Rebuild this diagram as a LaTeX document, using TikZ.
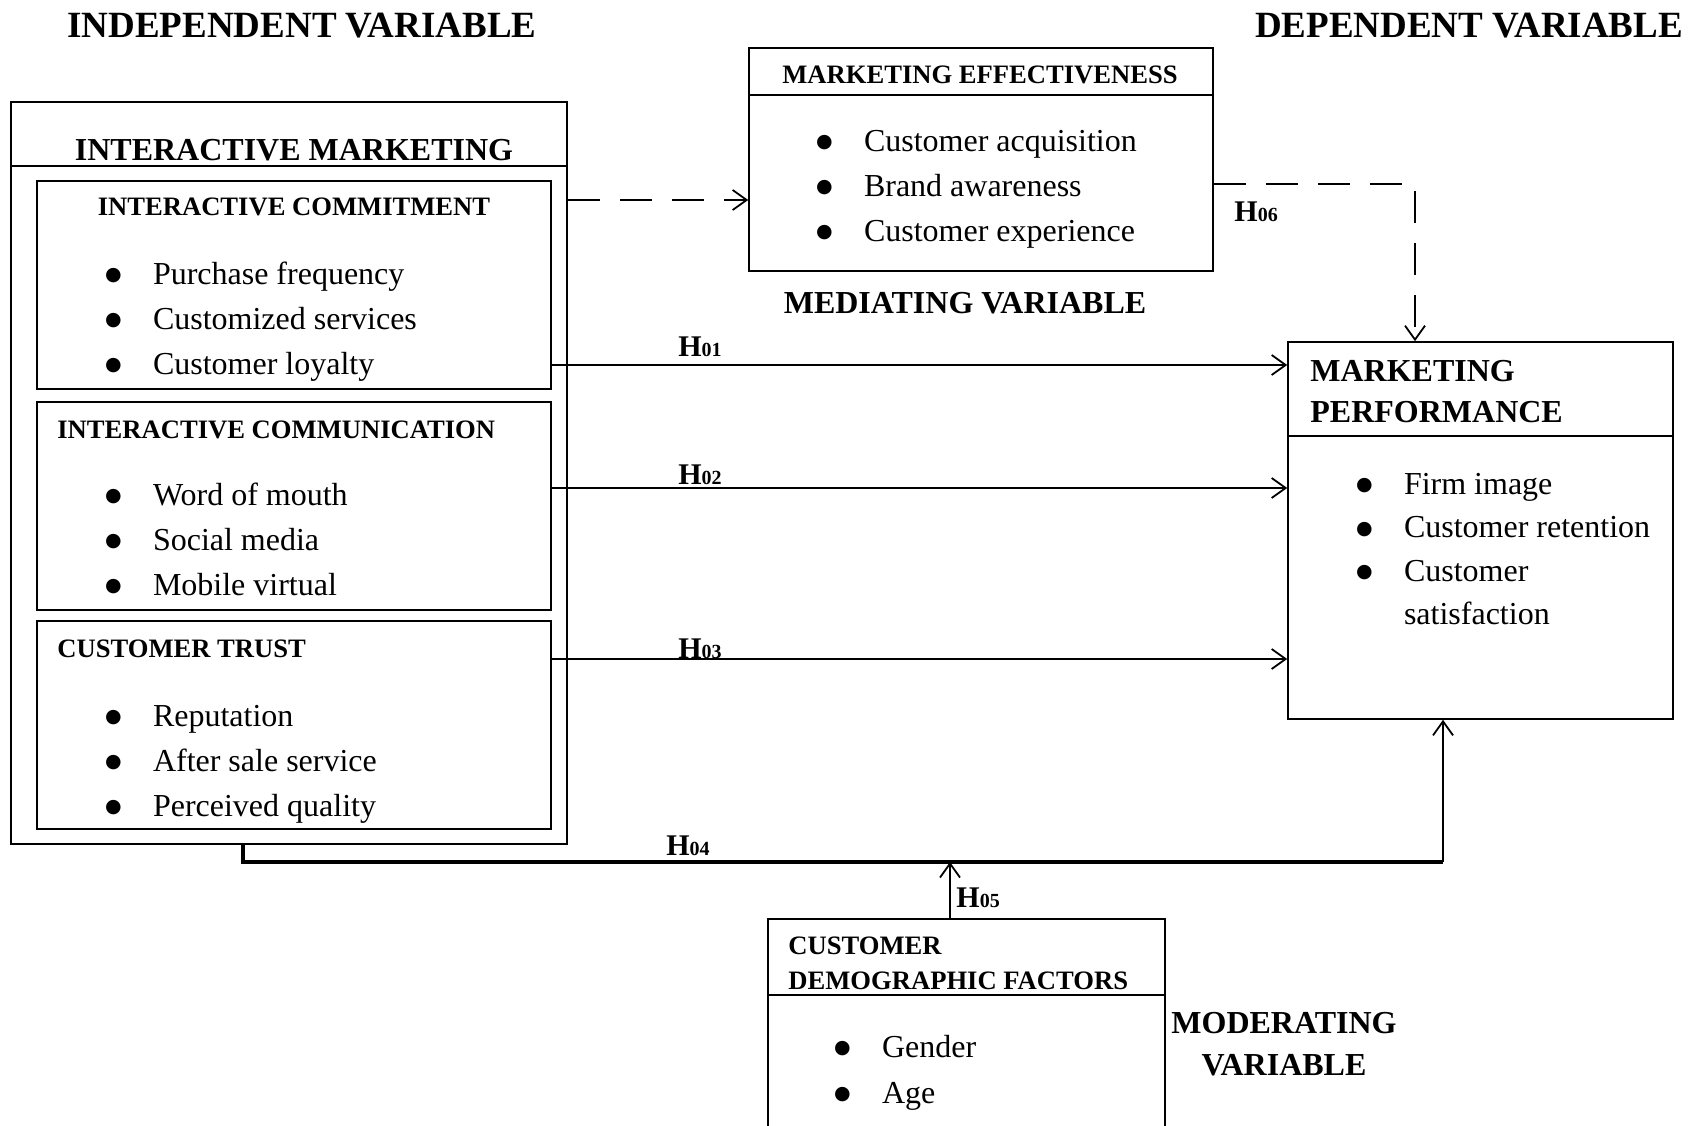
\documentclass[tikz,border=0pt]{standalone}
\usepackage{fontspec}
\setmainfont{Liberation Serif}
\newfontfamily\bulfont{DejaVu Sans}
\usetikzlibrary{arrows.meta,positioning}

\newcommand{\itembul}{\makebox[22.8pt][l]{\hspace{-1.1pt}\raisebox{1.7pt}{\bulfont\fontsize{9.5}{10}\selectfont ●}}}
\newcommand{\tabstack}[2]{\begin{tabular}[t]{@{}#1@{}}#2\end{tabular}}
\newcommand{\hyplabel}[1]{H{\fontsize{10}{10}\selectfont #1}}

\begin{document}
\begin{tikzpicture}[
                x=0.5pt, y=-0.5pt,
                box/.style={draw, line width=0.8pt, inner sep=0pt},
                rule/.style={line width=0.9pt},
                heading/.style={font=\fontsize{18.5}{22}\selectfont\bfseries, inner sep=0pt, anchor=base},
                vartitle/.style={font=\fontsize{16}{21}\selectfont\bfseries, inner sep=0pt, anchor=base},
                boxtitle/.style={font=\fontsize{13.3}{17.5}\selectfont\bfseries, inner sep=0pt, anchor=base},
                items/.style={font=\fontsize{16}{22.5}\selectfont, inner sep=0pt, anchor=base west},
                hyp/.style={font=\fontsize{15}{15}\selectfont\bfseries, inner sep=0pt, anchor=base west},
                arr/.style={-{Straight Barb[length=7pt,width=10pt]}, line width=0.9pt},
                dasharr/.style={arr, dash pattern=on 16pt off 10pt},
            ]
            \clip (0,0) rectangle (1700,1125);

            % headings
            \node[heading] (iv) at (302,37)  {INDEPENDENT VARIABLE};
            \node[heading] (dv) at (1469,37) {DEPENDENT VARIABLE};

            % independent variable
            \node[box, minimum width=278pt, minimum height=371pt] (im) at (289,473) {};
            \draw[rule] (im.west |- 0,166) -- (im.east |- 0,166);
            \node[vartitle] (imt) at (294,160) {INTERACTIVE MARKETING};

            \node[box, minimum width=257pt, minimum height=104pt] (icm) at (294,285) {};
            \node[boxtitle] (icmt) at (294,215) {INTERACTIVE COMMITMENT};
            \node[items] (icmi) at (107,284) {\tabstack{l}{\itembul Purchase frequency\\ \itembul Customized services\\ \itembul Customer loyalty}};

            \node[box, minimum width=257pt, minimum height=104pt] (icom) at (294,506) {};
            \node[boxtitle, anchor=base west] (icomt) at (57,438) {INTERACTIVE COMMUNICATION};
            \node[items] (icomi) at (107,505) {\tabstack{l}{\itembul Word of mouth\\ \itembul Social media\\ \itembul Mobile virtual}};

            \node[box, minimum width=257pt, minimum height=104pt] (ct) at (294,725) {};
            \node[boxtitle, anchor=base west] (ctt) at (57,657) {CUSTOMER TRUST};
            \node[items] (cti) at (107,726) {\tabstack{l}{\itembul Reputation\\ \itembul After sale service\\ \itembul Perceived quality}};

            % mediating variable
            \node[box, minimum width=232pt, minimum height=111.5pt] (me) at (981,159.5) {};
            \draw[rule] (me.west |- 0,95) -- (me.east |- 0,95);
            \node[boxtitle] (met) at (980,83) {MARKETING EFFECTIVENESS};
            \node[items] (mei) at (818,151) {\tabstack{l}{\itembul Customer acquisition\\ \itembul Brand awareness\\ \itembul Customer experience}};
            \node[vartitle] (medv) at (965,313) {MEDIATING VARIABLE};

            % dependent variable
            \node[box, minimum width=192.5pt, minimum height=188.5pt] (mp) at (1480.5,530.5) {};
            \draw[rule] (mp.west |- 0,436) -- (mp.east |- 0,436);
            \node[vartitle, anchor=base west, font=\fontsize{16}{20.5}\selectfont\bfseries] (mpt) at (1310,381) {\tabstack{l}{MARKETING\\PERFORMANCE}};
            \node[items, font=\fontsize{16}{21.8}\selectfont] (mpi) at (1358,494) {\tabstack{l}{\itembul Firm image\\ \itembul Customer retention\\ \itembul Customer\\ \hspace{22.8pt}satisfaction}};

            % moderating variable
            \node[box, minimum width=198.5pt, minimum height=110.5pt] (cdf) at (966.5,1029.5) {};
            \draw[rule] (cdf.west |- 0,995) -- (cdf.east |- 0,995);
            \node[boxtitle, anchor=base west] (cdft) at (788,954) {\tabstack{l}{CUSTOMER\\DEMOGRAPHIC FACTORS}};
            \node[items, font=\fontsize{16}{23}\selectfont] (cdfi) at (836,1057) {\tabstack{l}{\itembul Gender\\ \itembul Age}};
            \node[vartitle] (modv) at (1284,1033) {\tabstack{c}{MODERATING\\VARIABLE}};

            % hypotheses
            \draw[dasharr] (im.east |- 0,200) -- (me.west |- 0,200);
            \draw[dasharr] (me.east |- 0,184) -| (mp.north -| 1415,0);
            \draw[arr] (icm.east |- 0,365) -- (mp.west |- 0,365);
            \draw[arr] (icom.east |- 0,488) -- (mp.west |- 0,488);
            \draw[arr] (ct.east |- 0,659) -- (mp.west |- 0,659);
            \coordinate (h4corner) at (1443,862);
            \draw[line width=1.8pt] (im.south -| 243,0) |- (h4corner);
            \draw[arr] (h4corner) -- (mp.south -| h4corner);
            \coordinate (h5end) at (950,862);
            \draw[arr] (cdf.north -| h5end) -- (h5end);

            \node[hyp] (h01) at (678,356)  {\hyplabel{01}};
            \node[hyp] (h02) at (678,484)  {\hyplabel{02}};
            \node[hyp] (h03) at (678,658)  {\hyplabel{03}};
            \node[hyp] (h04) at (666,855)  {\hyplabel{04}};
            \node[hyp] (h05) at (956,907)  {\hyplabel{05}};
            \node[hyp] (h06) at (1234,221) {\hyplabel{06}};
        \end{tikzpicture}
\end{document}
